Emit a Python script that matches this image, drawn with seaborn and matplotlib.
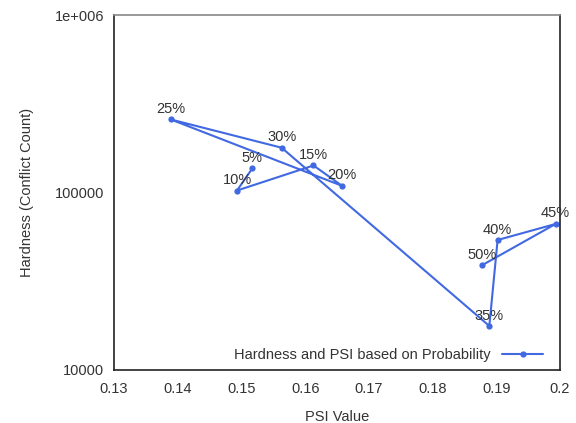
import matplotlib
matplotlib.use("Agg")
import matplotlib.pyplot as plt
import seaborn as sns
import pandas as pd

# Probability settings and the measured PSI / hardness for each
probability_labels = ["5%", "10%", "15%", "20%", "25%", "30%", "35%", "40%", "45%", "50%"]
psi_values = [0.1517, 0.1493, 0.1613, 0.1658, 0.1389, 0.1563, 0.1889, 0.1902, 0.1993, 0.1878]
conflict_counts = [136700, 102600, 142000, 109000, 258000, 178800, 17700, 54000, 66500, 39000]

x_ticks = [0.13, 0.14, 0.15, 0.16, 0.17, 0.18, 0.19, 0.2]
x_tick_labels = ["0.13", "0.14", "0.15", "0.16", "0.17", "0.18", "0.19", "0.2"]
y_ticks = [10000, 100000, 1000000]
y_tick_labels = ["10000", "100000", "1e+006"]

df = pd.DataFrame({"psi": psi_values, "hardness": conflict_counts, "prob": probability_labels})

sns.set_style("white")
plt.rcParams["font.family"] = ["Liberation Sans", "DejaVu Sans"]

fig = plt.figure(figsize=(5.76, 4.23), dpi=100)
ax = fig.add_axes([0.198, 0.1253, 0.7743, 0.8392])

line_color = "#4169e1"
sns.lineplot(data=df, x="psi", y="hardness", sort=False, estimator=None,
             color=line_color, linewidth=1.5, marker="o", markersize=4.5,
             markeredgewidth=0, label="Hardness and PSI based on Probability", ax=ax)

ax.set_yscale("log")
ax.set_xlim(0.13, 0.2)
ax.set_ylim(10000, 1000000)

fs = 10.5
for xv, yv, lab in zip(df["psi"], df["hardness"], df["prob"]):
    ax.annotate(lab, (xv, yv), xytext=(0, 2.5), textcoords="offset points",
                ha="center", va="bottom", fontsize=fs, color="#333333")

ax.set_xticks(x_ticks)
ax.set_xticklabels(x_tick_labels)
ax.set_yticks(y_ticks)
ax.set_yticklabels(y_tick_labels)
ax.minorticks_off()
ax.tick_params(axis="both", direction="in", length=4, width=1, colors="#333333",
               labelsize=fs, labelcolor="#333333")
ax.tick_params(axis="y", pad=7)
ax.tick_params(axis="x", pad=9)

ax.set_xlabel("PSI Value", fontsize=fs, color="#333333", labelpad=10)
ax.set_ylabel("Hardness (Conflict Count)", fontsize=fs, color="#333333", labelpad=15)

for side in ["left", "bottom", "right"]:
    ax.spines[side].set_color("#222222")
    ax.spines[side].set_linewidth(1.2)
ax.spines["top"].set_color("#888888")
ax.spines["top"].set_linewidth(1.2)

leg = ax.legend(loc="lower right", frameon=False, markerfirst=False, fontsize=fs,
                handlelength=2.8, bbox_to_anchor=(0.975, 0.005),
                borderaxespad=0.0, handletextpad=0.8)
for t in leg.get_texts():
    t.set_color("#333333")

fig.savefig("out.png", dpi=100)
